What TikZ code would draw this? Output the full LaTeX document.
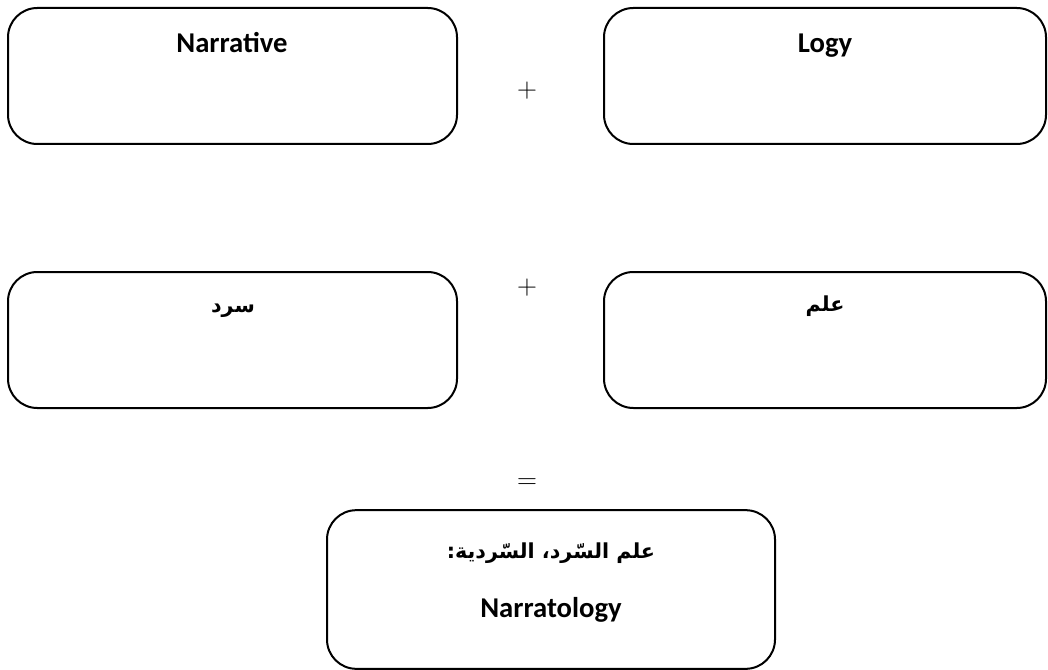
\documentclass[tikz,border=0pt]{standalone}
\usepackage{fontspec}
\setmainfont{Carlito}
\newfontfamily\arabicfont[Script=Arabic]{DejaVu Sans}
\TeXXeTstate=1
\begin{document}
\begin{tikzpicture}[x=0.75pt,y=-0.75pt,line join=round,
  box/.style={draw,line width=1.5pt,rounded corners=22pt,inner sep=0pt},
  latin/.style={anchor=base,inner sep=0pt,font=\fontsize{21.5}{25}\selectfont\bfseries},
  arab/.style={anchor=base,inner sep=0pt,font=\fontsize{15.5}{19}\selectfont\arabicfont\bfseries},
  sign/.style={inner sep=0pt,font=\fontsize{21}{24}\selectfont}]
  \useasboundingbox (0,0) rectangle (1048,670);
  % top row
  \node[box,minimum width=336.75pt,minimum height=102pt] (narr) at (232.5,76) {};
  \node[box,minimum width=331.5pt,minimum height=102pt] (logy) at (825,76) {};
  \node[latin] (narrtxt) at (232,53) {Narrative};
  \node[latin] (logytxt) at (825,53) {Logy};
  \node[sign] (plusa) at (527,91) {$+$};
  % arabic row
  \node[box,minimum width=336.75pt,minimum height=102pt] (sard) at (232.5,340) {};
  \node[box,minimum width=331.5pt,minimum height=102pt] (ilm) at (825,340) {};
  \node[arab] (sardtxt) at (233,312) {\beginR سرد\endR};
  \node[arab] (ilmtxt) at (825,311) {\beginR علم\endR};
  \node[sign] (plusb) at (527,288) {$+$};
  % result
  \node[sign] (eq) at (527,484) {$=$};
  \node[box,minimum width=336pt,minimum height=119pt] (res) at (551,589.5) {};
  \node[arab] (restxt) at (551,558) {\beginR علم السّرد، السّردية:\endR};
  \node[latin] (resen) at (551,617) {Narratology};
\end{tikzpicture}
\end{document}
